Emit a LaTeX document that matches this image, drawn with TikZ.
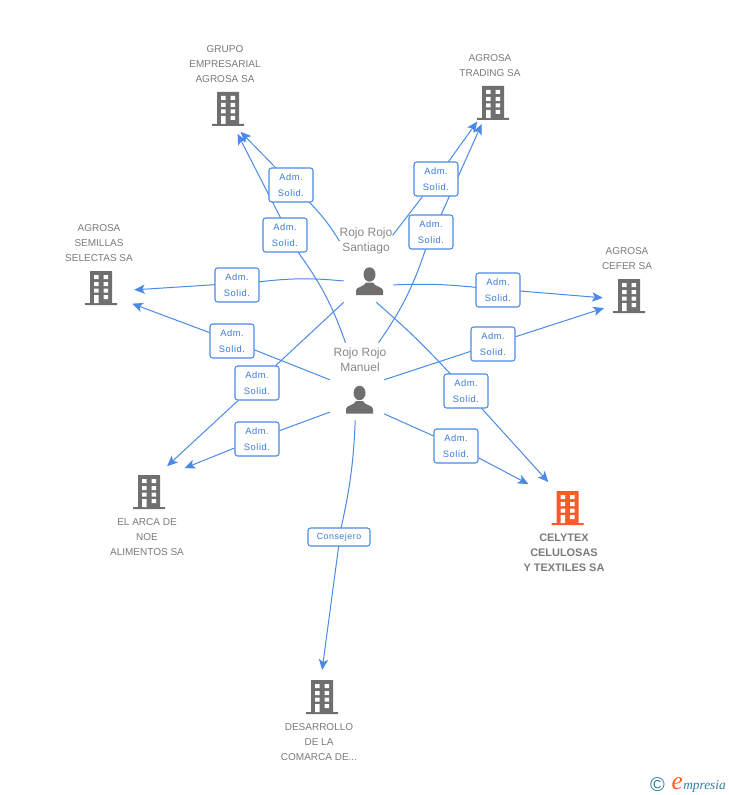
\documentclass[tikz,border=0pt]{standalone}
\usepackage{fontspec}
\usetikzlibrary{arrows.meta,backgrounds}
\setmainfont{Liberation Sans}
\newfontfamily\boxfont[LetterSpace=6]{Liberation Sans}
\newfontfamily\logofont{Liberation Serif}
\definecolor{linkblue}{HTML}{4A8AE6}
\definecolor{textblue}{HTML}{3A7BD5}
\definecolor{icongray}{HTML}{6F6F6F}
\definecolor{textgray}{HTML}{7A7A7A}
\definecolor{whogray}{HTML}{888888}
\definecolor{hotorange}{HTML}{FF5A2B}
\definecolor{logoblue}{HTML}{2F7F9F}
\tikzset{bld/.style = {circle, inner sep=0pt},
    psn/.style = {inner sep=0pt},
    sol/.style = {draw=linkblue, fill=white, rounded corners=2pt, line width=.8pt, inner sep=0pt,
        minimum width=33pt, minimum height=25.5pt, align=center, text=textblue,
        font=\boxfont\fontsize{7}{11.5}\selectfont},
    lbl/.style = {align=center, inner sep=0pt, text=textgray, font=\fontsize{7.5}{11.25}\selectfont},
    who/.style = {align=center, inner sep=0pt, text=whogray, font=\fontsize{9}{11.25}\selectfont},
    lnk/.style = {draw=linkblue, line width=.75pt},
    bldpic/.pic = {
        \fill[#1] (-11,-17) rectangle (11,15) (-16,15) rectangle (16,17);
        \foreach \y in {-13,-6,0.5} \fill[white] (-7,\y) rectangle ++(4.5,4) (2.5,\y) rectangle ++(4.5,4);
        \fill[white] (2.5,7) rectangle ++(4.5,4) (-7,7) rectangle (-2.5,15);
    },
    psnpic/.pic = {
        \fill[icongray] (0,-7) ellipse (6 and 7.2);
        \fill[icongray] (-13.5,13.5) -- (-13.5,9) .. controls (-13.5,5) and (-5,5.5) .. (-3.5,1)
            -- (3.5,1) .. controls (5,5.5) and (13.5,5) .. (13.5,9) -- (13.5,13.5) -- cycle;
    }}
\begin{document}
\begin{tikzpicture}[x=.75pt, y=-.75pt, >={Stealth[length=8pt,width=7pt,inset=2pt]}]
    \useasboundingbox (0,0) rectangle (728,795);

    % the links do not aim at the middle of the icons, so nodes and icons are placed apart
    \foreach \n/\x/\y/\s in {grupo/232/123/18, trading/492/101/37.5, semillas/101/292/49.5, cefer/629/300/39,
            arca/150/482/34.5, celytex/570/506/48, desarrollo/318.5/697/40.5}
        \node[bld, minimum size=\s pt] (\n) at (\x,\y) {};
    \foreach \x/\y in {228/109, 493/103, 101/288, 629/296, 149/492, 322/697}
        \pic at (\x,\y) {bldpic=icongray};
    \pic at (567.5,508) {bldpic=hotorange};

    \node[lbl] (grupoT) at (225,64) {GRUPO\\EMPRESARIAL\\AGROSA SA};
    \node[lbl] (tradingT) at (490,65.5) {AGROSA\\TRADING SA};
    \node[lbl] (semillasT) at (99,243) {AGROSA\\SEMILLAS\\SELECTAS SA};
    \node[lbl] (ceferT) at (627,258.5) {AGROSA\\CEFER SA};
    \node[lbl] (arcaT) at (147,537) {EL ARCA DE\\NOE\\ALIMENTOS SA};
    \node[lbl, font=\bfseries\fontsize{8.2}{11.25}\selectfont] (celytexT) at (564,553) {CELYTEX\\CELULOSAS\\Y TEXTILES SA};
    \node[lbl] (desarrolloT) at (319,742) {DESARROLLO\\DE LA\\COMARCA DE...};

    % people: the nodes are only as large as the gap round the icon
    \node[psn, minimum width=36.75pt, minimum height=31.5pt] (santiago) at (368.5,281) {};
    \node[psn, minimum width=40.5pt, minimum height=30pt] (manuel) at (357,400) {};
    \pic at (369.5,281.5) {psnpic};
    \pic at (359.5,400) {psnpic};
    \node[who] (santiagoT) at (366,241) {Rojo Rojo\\Santiago};
    \node[who, minimum height=25.5pt] (manuelT) at (360,360) {Rojo Rojo\\Manuel};

    \foreach \n/\x/\y in {solA/291/185, solB/285/235, solC/237/285, solD/232/341, solE/257/383,
            solF/257/439, solG/498/290, solH/493/344, solI/466/391, solJ/456/446,
            solK/436/179, solL/431/232}
        \node[sol] (\n) at (\x,\y) {Adm.\\Solid.};
    \node[sol, minimum width=46.5pt, minimum height=13.5pt, font=\boxfont\fontsize{6.6}{8}\selectfont] (solM) at (339,537) {Consejero};

    \begin{scope}[on background layer]
        \draw[lnk, ->] (santiagoT.west) to[bend right=6] (solA) -- (grupo);
        \draw[lnk, ->] (manuelT.130) to[bend right=8] (solB) -- (grupo);
        \draw[lnk, ->] (santiago.west) to[bend right=6] (solC) -- (semillas);
        \draw[lnk, ->] (manuel.north west) -- (solD) -- (semillas);
        \draw[lnk, ->] (santiago.south west) -- (solE) -- (arca);
        \draw[lnk, ->, shorten >=10.5pt] (manuel.204) -- (solF) -- (arca);
        \draw[lnk, ->] (santiago.-9) to[bend left=4] (solG) -- (cefer);
        \draw[lnk, ->] (manuel.north east) -- (solH) -- (cefer);
        \draw[lnk, ->] (santiago.-70) to[bend left=3] (solI) -- (celytex);
        \draw[lnk, ->, shorten >=11pt] (manuel.-27) -- (solJ) -- (celytex);
        \draw[lnk, ->] (santiagoT.12) -- (solK) -- (trading);
        \draw[lnk, ->] (manuelT.43) to[bend right=8] (solL) -- (trading);
        \draw[lnk, ->] (manuel.265) to[bend left=5] (solM) -- (desarrollo);
    \end{scope}

    \node[inner sep=0pt, text=logoblue, font=\fontsize{15}{15}\selectfont] (logoC) at (657.5,784.5) {\textcopyright};
    \node[inner sep=0pt, anchor=base west, text=logoblue, font=\logofont\itshape\fontsize{10}{12}\selectfont] (logoT) at (683,789) {mpresia};
    \node[inner sep=0pt, anchor=base east, text=hotorange!80!orange, font=\logofont\itshape\fontsize{19}{19}\selectfont] (logoE) at (logoT.base west) {e};
\end{tikzpicture}
\end{document}
